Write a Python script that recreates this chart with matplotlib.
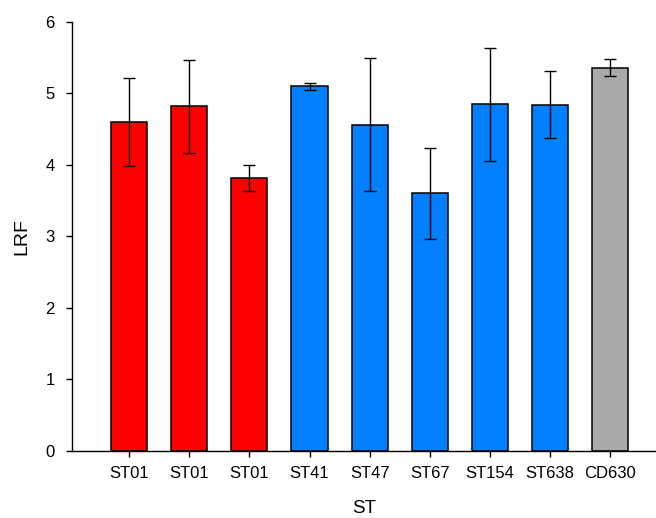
import numpy as np
import matplotlib
matplotlib.use('Agg')
import matplotlib.pyplot as plt

plt.rcParams['font.family'] = ['Liberation Sans', 'DejaVu Sans']

# data
labels = ['ST01', 'ST01', 'ST01', 'ST41', 'ST47', 'ST67', 'ST154', 'ST638', 'CD630']
lrf = [4.60, 4.82, 3.82, 5.10, 4.56, 3.60, 4.85, 4.84, 5.36]
err = [0.61, 0.65, 0.18, 0.05, 0.93, 0.64, 0.79, 0.47, 0.12]
colors = ['#FF0000', '#FF0000', '#FF0000', '#0080FF', '#0080FF', '#0080FF',
          '#0080FF', '#0080FF', '#AAAAAA']

fig = plt.figure(figsize=(6.56, 5.18), dpi=100)
ax = fig.add_axes([0.1098, 0.1293, 0.889, 0.8287])

x = np.arange(len(labels))
ax.bar(x, lrf, width=0.6, color=colors, edgecolor='black', linewidth=1.1,
       yerr=err, capsize=4.5, error_kw=dict(elinewidth=1.0, capthick=1.0, ecolor='black'),
       zorder=2)

ax.set_xlim(-0.95, 8.75)
ax.set_ylim(0, 6)
ax.set_xticks(x)
ax.set_xticklabels(labels)
ax.set_yticks(range(7))

for s in ['top', 'right']:
    ax.spines[s].set_visible(False)
for s in ['left', 'bottom']:
    ax.spines[s].set_linewidth(1.0)

ax.tick_params(axis='both', labelsize=12, direction='out', width=1.0)
ax.tick_params(axis='y', length=4.5, pad=8)
ax.tick_params(axis='x', length=4, pad=7)

ax.set_xlabel('ST', fontsize=13.5, va='center')
ax.set_ylabel('LRF', fontsize=14, va='center')
ax.xaxis.set_label_coords(0.5, -0.135)
ax.yaxis.set_label_coords(-0.0866, 0.5)

fig.savefig('out.png', dpi=100)
